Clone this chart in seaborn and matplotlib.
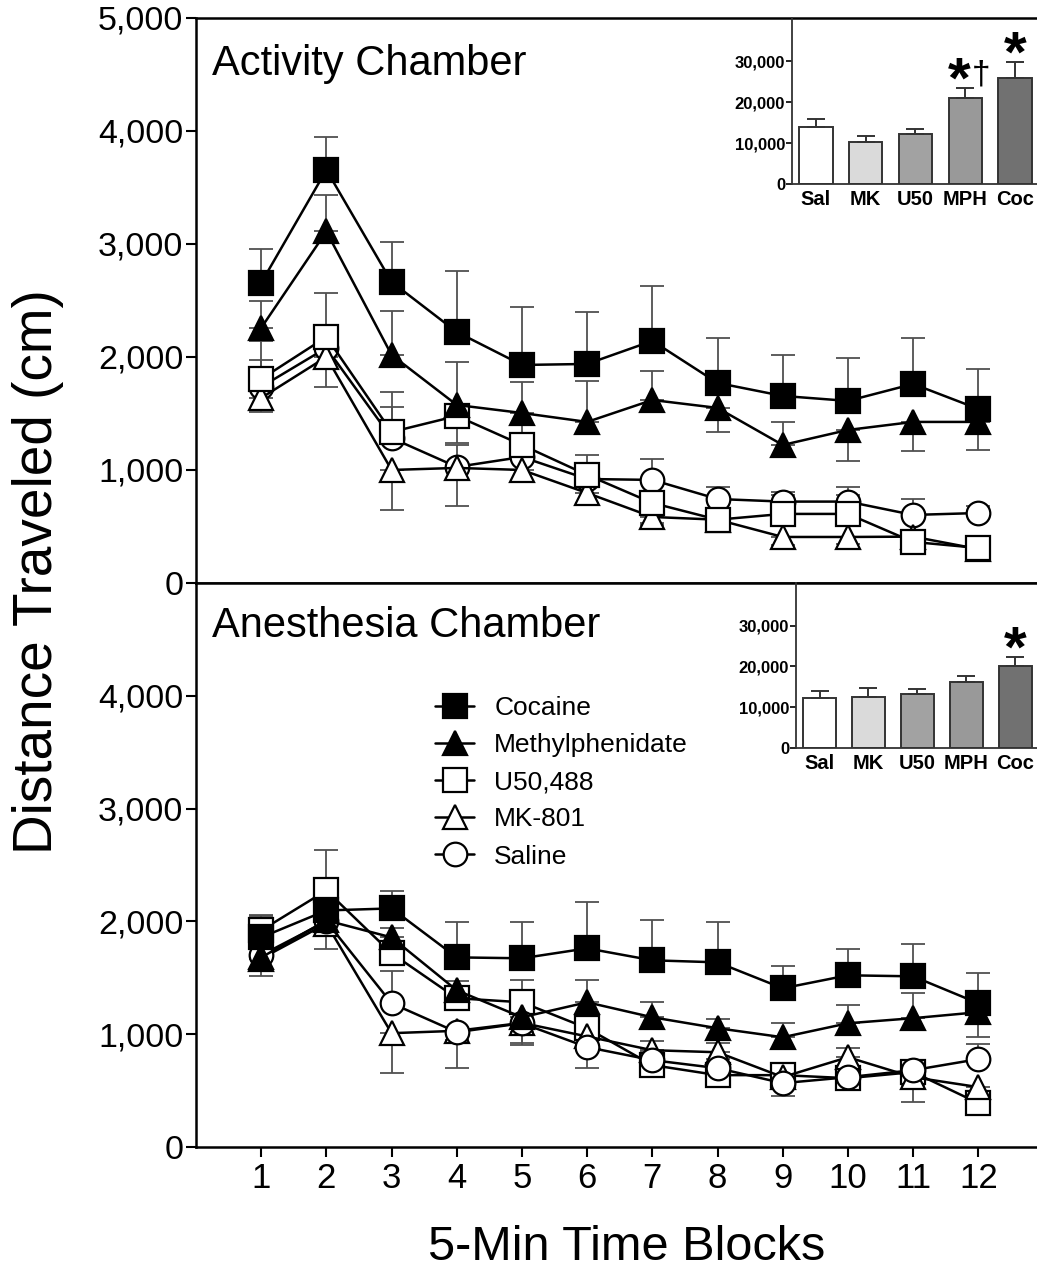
import numpy as np
import matplotlib
matplotlib.use("Agg")
import matplotlib.pyplot as plt
from matplotlib.lines import Line2D
from matplotlib.ticker import FuncFormatter
import seaborn as sns

# ---------------- data ----------------
blocks = [1, 2, 3, 4, 5, 6, 7, 8, 9, 10, 11, 12]
group_names = ["Cocaine", "Methylphenidate", "U50,488", "MK-801", "Saline"]

# Activity chamber (means, signed SEM: + drawn up, - drawn down)
act_cocaine = [2655, 3655, 2664, 2221, 1929, 1938, 2142, 1770, 1655, 1611, 1761, 1540]
act_cocaine_sem = [300, 292, 354, 540, 513, 460, 487, 398, 363, 380, 407, 354]
act_mph = [2257, 3110, 2018, 1575, 1504, 1425, 1619, 1549, 1221, 1354, 1425, 1425]
act_mph_sem = [240, 320, 390, 380, 275, 365, 257, -212, 200, -274, -257, -250]
act_u50 = [1805, 2177, 1336, 1478, 1221, 956, 708, 560, 611, 611, 363, 310]
act_u50_sem = [336, 390, 354, -240, 190, 180, -180, -80, 190, 240, -60, 60]
act_mk = [1637, 2000, 1000, 1018, 1000, 796, 584, 560, 407, 407, 410, 300]
act_mk_sem = [-124, -265, -354, -336, -106, -88, -70, -60, -70, -60, -60, -60]
act_saline = [1735, 2080, 1283, 1027, 1115, 920, 912, 743, 720, 720, 602, 619]
act_saline_sem = [240, 80, 275, 195, 80, 80, 186, 106, 55, 60, 140, 60]

# Anesthesia chamber
anes_cocaine = [1858, 2097, 2115, 1681, 1673, 1761, 1655, 1637, 1407, 1522, 1513, 1274]
anes_cocaine_sem = [195, 177, 150, 310, 320, 415, 354, 354, 195, 230, 283, 265]
anes_mph = [1680, 2009, 1858, 1389, 1150, 1283, 1150, 1053, 973, 1097, 1142, 1195]
anes_mph_sem = [-100, -256, 80, 80, -230, 200, 133, 80, 124, 160, 220, -220]
anes_u50 = [1920, 2274, 1717, 1319, 1283, 1053, 726, 637, 637, 610, 664, 389]
anes_u50_sem = [130, 360, 80, 80, 195, 80, 80, 80, 80, 80, 80, 80]
anes_mk = [1670, 1980, 1009, 1030, 1100, 980, 858, 840, 620, 796, 619, 531]
anes_mk_sem = [-150, -80, -354, -80, -80, -80, 80, 80, -80, 80, -80, -80]
anes_saline = [1700, 2000, 1274, 1018, 1097, 885, 770, 699, 566, 619, 681, 779]
anes_saline_sem = [80, 80, 283, -320, -195, -186, 80, 80, -115, 80, -283, 133]

# Inset bar charts (total distance)
bar_labels = ["Sal", "MK", "U50", "MPH", "Coc"]
act_bar = [13900, 10240, 12200, 20970, 25850]
act_bar_sem = [1950, 1460, 1340, 2440, 3900]
anes_bar = [12200, 12440, 13170, 16100, 20240]
anes_bar_sem = [1700, 2200, 1200, 1460, 2200]
bar_colors = ["#ffffff", "#dadada", "#a2a2a2", "#999999", "#717171"]

# ---------------- style ----------------
sns.set_style("white")
plt.rcParams["font.family"] = ["Liberation Sans", "DejaVu Sans"]
plt.rcParams["text.color"] = "black"
plt.rcParams["axes.labelcolor"] = "black"
plt.rcParams["xtick.color"] = "black"
plt.rcParams["ytick.color"] = "black"

styles = {
    "Cocaine": dict(marker="s", mfc="black"),
    "Methylphenidate": dict(marker="^", mfc="black"),
    "U50,488": dict(marker="s", mfc="white"),
    "MK-801": dict(marker="^", mfc="white"),
    "Saline": dict(marker="o", mfc="white"),
}
MS = 17
MEW = 1.6
LW = 1.8

fig = plt.figure(figsize=(10.37, 12.79), dpi=100)

ax1 = fig.add_axes([0.189, 0.5442, 0.811, 0.4418])
ax2 = fig.add_axes([0.189, 0.1032, 0.811, 0.4410])

x = np.array(blocks)


def draw_series(ax, name, mean, sem, z):
    sem = np.array(sem, dtype=float)
    up = np.where(sem > 0, sem, 0)
    dn = np.where(sem < 0, -sem, 0)
    ax.errorbar(x, mean, yerr=[dn, up], fmt="none", ecolor="#505050",
                elinewidth=1.3, capsize=8.5, capthick=1.3, zorder=2)
    st = styles[name]
    sns.lineplot(x=x, y=mean, ax=ax, color="black", lw=LW, marker=st["marker"],
                 markersize=MS, markerfacecolor=st["mfc"], markeredgecolor="black",
                 markeredgewidth=MEW, errorbar=None, legend=False, zorder=z)


# top panel order (bottom to top)
draw_series(ax1, "Saline", act_saline, act_saline_sem, 3)
draw_series(ax1, "MK-801", act_mk, act_mk_sem, 4)
draw_series(ax1, "U50,488", act_u50, act_u50_sem, 5)
draw_series(ax1, "Methylphenidate", act_mph, act_mph_sem, 6)
draw_series(ax1, "Cocaine", act_cocaine, act_cocaine_sem, 7)

draw_series(ax2, "U50,488", anes_u50, anes_u50_sem, 3)
draw_series(ax2, "MK-801", anes_mk, anes_mk_sem, 4)
draw_series(ax2, "Saline", anes_saline, anes_saline_sem, 5)
draw_series(ax2, "Methylphenidate", anes_mph, anes_mph_sem, 6)
draw_series(ax2, "Cocaine", anes_cocaine, anes_cocaine_sem, 7)

fmt = FuncFormatter(lambda v, p: f"{int(v):,}")
for ax in (ax1, ax2):
    ax.set_xlim(0, 12.9)
    ax.set_ylim(0, 5000)
    ax.yaxis.set_major_formatter(fmt)
    ax.set_xlabel("")
    ax.set_ylabel("")
    for s in ("left", "bottom", "top"):
        ax.spines[s].set_linewidth(1.8)
        ax.spines[s].set_color("black")
    ax.spines["right"].set_visible(False)
    ax.tick_params(axis="y", direction="out", length=7, width=1.5, labelsize=24.5,
                   pad=2, left=True, colors="black")
    ax.grid(False)

ax1.set_yticks([0, 1000, 2000, 3000, 4000, 5000])
ax1.set_xticks([])
ax2.set_yticks([0, 1000, 2000, 3000, 4000])
ax2.set_xticks(blocks)
ax2.set_xticklabels([str(b) for b in blocks])
ax2.tick_params(axis="x", direction="out", length=7, width=1.5, labelsize=25,
                pad=4, bottom=True, colors="black")

ax1.text(0.019, 0.899, "Activity Chamber", transform=ax1.transAxes, fontsize=30,
         va="baseline", ha="left")
ax2.text(0.019, 0.904, "Anesthesia Chamber", transform=ax2.transAxes, fontsize=30,
         va="baseline", ha="left")

# legend
handles = [Line2D([0], [0], color="black", lw=LW, marker=styles[n]["marker"],
                  markersize=MS, markerfacecolor=styles[n]["mfc"],
                  markeredgecolor="black", markeredgewidth=MEW)
           for n in group_names]
ax2.legend(handles, group_names, loc="upper left", bbox_to_anchor=(0.284, 0.800),
           frameon=False, fontsize=19, handlelength=1.5, handletextpad=0.75,
           labelspacing=0.5, borderpad=0, borderaxespad=0)

fig.text(38 / 1037, 1 - 572 / 1279, "Distance Traveled (cm)", rotation=90,
         fontsize=39.5, ha="center", va="center")
fig.text(627 / 1037, 1 - 1248 / 1279, "5-Min Time Blocks", fontsize=35,
         ha="center", va="center")


# insets
def draw_inset(rect, vals, sems, marks):
    axi = fig.add_axes(rect)
    sns.barplot(x=bar_labels, y=vals, hue=bar_labels, palette=bar_colors,
                legend=False, edgecolor="#333333", linewidth=1.4, width=0.67,
                errorbar=None, ax=axi)
    axi.errorbar(np.arange(5), vals, yerr=[np.zeros(5), sems], fmt="none",
                 ecolor="#333333", elinewidth=1.4, capsize=6.5, capthick=1.4)
    axi.set_xlim(-0.48, 4.44)
    axi.set_ylim(0, 40500)
    axi.set_yticks([0, 10000, 20000, 30000])
    axi.yaxis.set_major_formatter(fmt)
    axi.set_xlabel("")
    axi.set_ylabel("")
    axi.spines["top"].set_visible(False)
    axi.spines["right"].set_visible(False)
    for s in ("left", "bottom"):
        axi.spines[s].set_linewidth(1.3)
        axi.spines[s].set_color("#333333")
    axi.tick_params(axis="y", direction="out", length=4, width=1.2, pad=1,
                    labelsize=12, left=True, colors="black")
    axi.tick_params(axis="x", length=0, pad=4, labelsize=14.5, colors="black")
    for lab in axi.get_yticklabels() + axi.get_xticklabels():
        lab.set_fontweight("bold")
    axi.patch.set_alpha(0)
    for i, m in enumerate(marks):
        if not m:
            continue
        top = vals[i] + sems[i]
        axi.annotate("*", xy=(i, top), xytext=(-4 if len(m) > 1 else 0, -7),
                     textcoords="offset points", ha="center", va="baseline",
                     fontsize=42, fontweight="bold")
        if "†" in m:
            axi.annotate("†", xy=(i, top), xytext=(11.5, 3),
                         textcoords="offset points", ha="center", va="baseline",
                         fontsize=24)
    return axi


draw_inset([0.7637, 0.8561, 0.2363, 0.1298], act_bar, act_bar_sem,
           ["", "", "", "*†", "*"])
draw_inset([0.7676, 0.4152, 0.2324, 0.1290], anes_bar, anes_bar_sem,
           ["", "", "", "", "*"])

fig.savefig("out.png", dpi=100)
